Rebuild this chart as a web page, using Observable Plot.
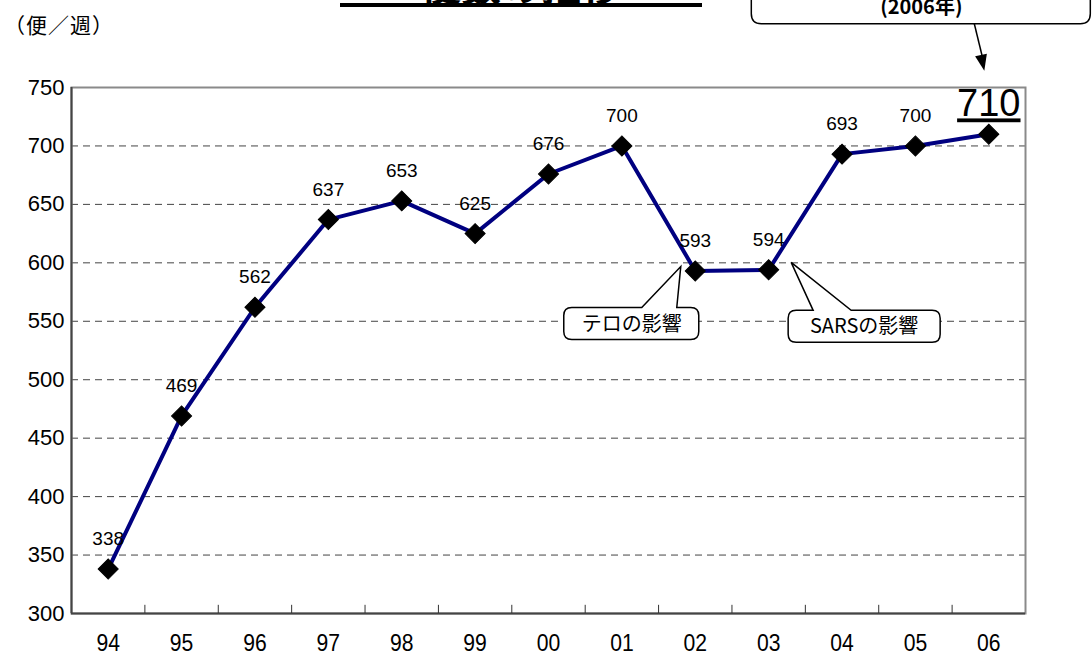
<!DOCTYPE html>
<html>
<head>
<meta charset="utf-8">
<script src="https://cdn.jsdelivr.net/npm/d3@7"></script>
<script src="https://cdn.jsdelivr.net/npm/@observablehq/plot@0.6"></script>
<style>
  html, body { margin: 0; padding: 0; background: #fff; }
  #chart svg { display: block; }
</style>
</head>
<body>
<div id="chart"></div>
<script>
// ---- data ----
const years = ["94","95","96","97","98","99","00","01","02","03","04","05","06"];
const flights = [338, 469, 562, 637, 653, 625, 676, 700, 593, 594, 693, 700, 710];
const yTicks = [300, 350, 400, 450, 500, 550, 600, 650, 700, 750];
const gridValues = [350, 400, 450, 500, 550, 600, 650, 700];
const unitLabel = "（便／週）";
const noteTexts = ["テロの影響", "SARSの影響"];
const noteYears = ["02", "03"];
const topNote = "(2006年)";
const titleText = "便数の推移";

const data = years.map((y, i) => ({i, year: y, v: flights[i]}));
const last = data[data.length - 1];
const rest = data.slice(0, -1);
const boundaries = d3.range(0.5, years.length - 1, 1);

const font = "'Liberation Sans', Arial, sans-serif";

const chart = Plot.plot({
  width: 1092,
  height: 657,
  marginLeft: 71,
  marginRight: 67,
  marginTop: 87,
  marginBottom: 44,
  style: {fontFamily: font, background: "#fff", color: "#000"},
  x: {type: "linear", domain: [-0.5, years.length - 0.5]},
  y: {domain: [300, 750]},
  marks: [
    Plot.ruleY(gridValues, {stroke: "#444", strokeDasharray: "7,5", strokeWidth: 1}),
    Plot.frame({stroke: "#8a8a8a", strokeWidth: 2}),
    Plot.ruleX([-0.5], {stroke: "#444", strokeWidth: 2}),
    Plot.ruleY([300], {stroke: "#444", strokeWidth: 2}),
    Plot.ruleX(boundaries, {y1: 300, y2: 307, stroke: "#333", strokeWidth: 1}),
    Plot.axisY({ticks: yTicks, tickSize: 0, tickPadding: 7, fontSize: 22, label: null}),
    Plot.axisX({ticks: d3.range(years.length), tickFormat: i => years[i], tickSize: 0, tickPadding: 21, fontSize: 23, label: null}),
    Plot.line(data, {x: "i", y: "v", stroke: "#000080", strokeWidth: 4}),
    Plot.dot(data, {x: "i", y: "v", symbol: "square", r: 8, rotate: 45, fill: "#000", stroke: "#000", strokeWidth: 1}),
    Plot.text(rest, {x: "i", y: "v", text: d => String(d.v), dy: -30, fontSize: 19, fill: "#000"}),
    Plot.text([last], {x: "i", y: "v", text: d => String(d.v), dy: -30, fontSize: 38, fill: "#000"})
  ]
});

document.getElementById("chart").appendChild(chart);

const svg = d3.select(chart);
// underline the highlighted last value
svg.selectAll("text").filter(function() { return this.textContent === String(last.v); })
  .style("text-decoration", "underline");
// condensed x tick labels
svg.selectAll('g[aria-label="x-axis tick label"] text').each(function() {
  const t = this.getAttribute("transform") || "";
  this.setAttribute("transform", t + " scale(0.92,1)");
});

const xs = chart.scale("x"), ys = chart.scale("y");
const px = i => xs.apply(i);
const py = v => ys.apply(v);

const g = svg.append("g").attr("font-family", "'Noto Sans CJK JP', 'Liberation Sans', sans-serif")
  .attr("text-anchor", "middle");

// unit label
g.append("text").attr("x", 4).attr("y", 33).attr("text-anchor", "start").attr("font-size", 21)
  .attr("letter-spacing", 1).text(unitLabel);

// title (cut at top, as in the reference)
g.append("text").attr("x", 521).attr("y", 1).attr("font-size", 40).attr("font-weight", "bold").text(titleText);
g.append("rect").attr("x", 340).attr("y", 3).attr("width", 362).attr("height", 4).attr("fill", "#000");

// callout builder: box (x0,y0,x1,y1), base points b1,b2 on top edge, tip (tx,ty)
function callout(x0, y0, x1, y1, b1, b2, tx, ty, r) {
  const p = d3.path();
  p.moveTo(x0 + r, y0);
  p.lineTo(b1, y0);
  p.lineTo(tx, ty);
  p.lineTo(b2, y0);
  p.lineTo(x1 - r, y0);
  p.quadraticCurveTo(x1, y0, x1, y0 + r);
  p.lineTo(x1, y1 - r);
  p.quadraticCurveTo(x1, y1, x1 - r, y1);
  p.lineTo(x0 + r, y1);
  p.quadraticCurveTo(x0, y1, x0, y1 - r);
  p.lineTo(x0, y0 + r);
  p.quadraticCurveTo(x0, y0, x0 + r, y0);
  p.closePath();
  return p.toString();
}

// テロの影響
{
  const d = data[years.indexOf(noteYears[0])];
  const cx = px(d.i), cy = py(d.v);
  g.append("path").attr("d", callout(cx - 131, cy + 37, cx + 4, cy + 69, cx - 53, cx - 18, cx - 14, cy - 4, 8))
    .attr("fill", "#fff").attr("stroke", "#000").attr("stroke-width", 1.5);
  g.append("text").attr("x", cx - 63).attr("y", cy + 60)
    .attr("font-size", 20).text(noteTexts[0]);
}
// SARSの影響
{
  const d = data[years.indexOf(noteYears[1])];
  const cx = px(d.i), cy = py(d.v);
  g.append("path").attr("d", callout(cx + 20, cy + 41, cx + 172, cy + 73, cx + 45, cx + 83, cx + 23, cy - 7, 8))
    .attr("fill", "#fff").attr("stroke", "#000").attr("stroke-width", 1.5);
  g.append("text").attr("x", cx + 96).attr("y", cy + 64)
    .attr("font-size", 20).text(noteTexts[1]);
}
// top note box and arrow to last point
{
  const cx = px(last.i), cy = py(last.v);
  const bx0 = cx - 237, bx1 = cx + 102, by1 = cy - 110, by0 = -30, r = 10;
  const p = d3.path();
  p.moveTo(bx0, by0);
  p.lineTo(bx0, by1 - r);
  p.quadraticCurveTo(bx0, by1, bx0 + r, by1);
  p.lineTo(bx1 - r, by1);
  p.quadraticCurveTo(bx1, by1, bx1, by1 - r);
  p.lineTo(bx1, by0);
  g.append("path").attr("d", p.toString()).attr("fill", "#fff").attr("stroke", "#000").attr("stroke-width", 1.5);
  g.append("text").attr("x", cx - 67).attr("y", by1 - 10)
    .attr("font-size", 20).attr("font-weight", "bold").text(topNote);
  const ax0 = cx - 14, ay0 = by1, ax1 = cx - 4, ay1 = cy - 63;
  g.append("line").attr("x1", ax0).attr("y1", ay0).attr("x2", ax1 - 1.5).attr("y2", ay1 - 12)
    .attr("stroke", "#000").attr("stroke-width", 1.5);
  const ang = Math.atan2(ay1 - ay0, ax1 - ax0);
  const L = 16, W = 6;
  const bxp = ax1 - L * Math.cos(ang), byp = ay1 - L * Math.sin(ang);
  const nx = -Math.sin(ang) * W, ny = Math.cos(ang) * W;
  g.append("path").attr("d", `M${ax1},${ay1}L${bxp + nx},${byp + ny}L${bxp - nx},${byp - ny}Z`).attr("fill", "#000");
}
</script>
</body>
</html>
